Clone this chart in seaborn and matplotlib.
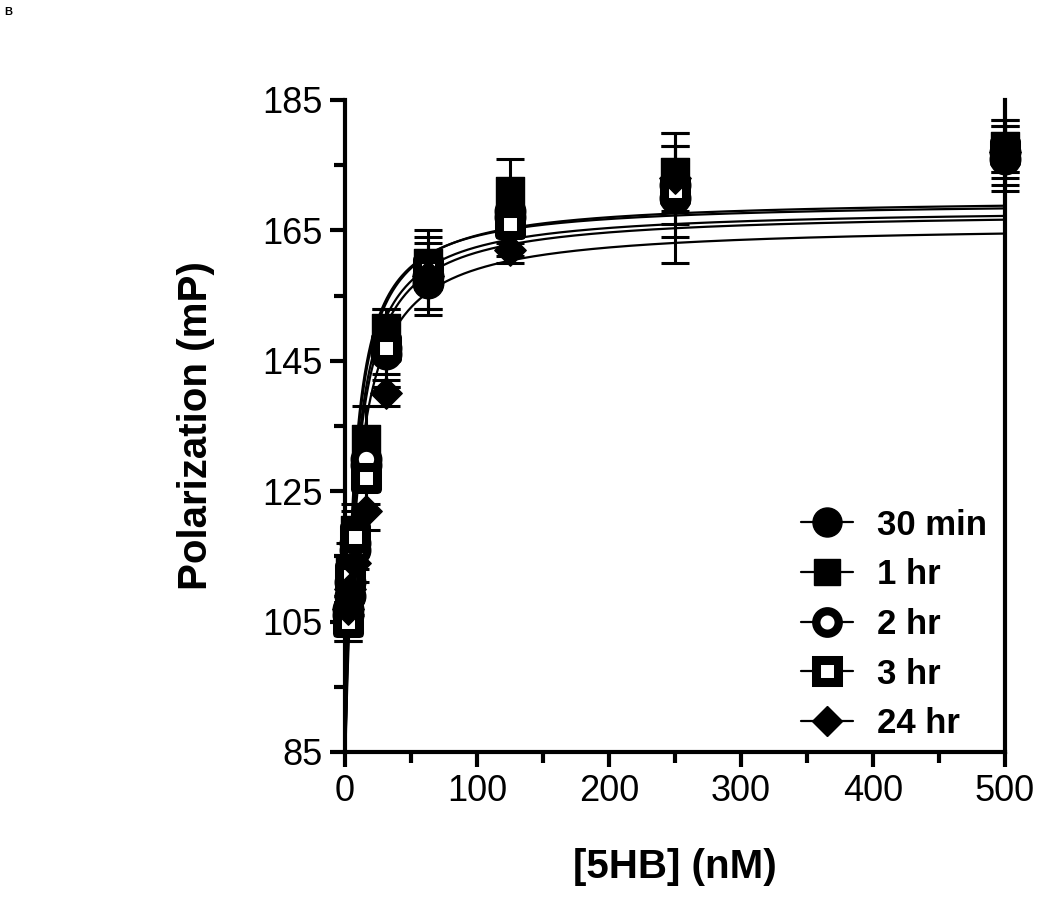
import numpy as np
import pandas as pd
import matplotlib
matplotlib.use("Agg")
import matplotlib.pyplot as plt
from matplotlib.lines import Line2D
import seaborn as sns

# concentrations of 5HB (nM)
conc = [1.95, 3.9, 7.8, 15.6, 31.25, 62.5, 125, 250, 500]

# mean polarization (mP) per time point
pol_30min = [106, 109, 117, 129, 147, 157, 168, 172, 177]
pol_1hr = [105, 113, 119, 133, 150, 160, 171, 174, 178]
pol_2hr = [107, 111, 116, 130, 146, 158, 167, 170, 176]
pol_3hr = [105, 112, 118, 127, 147, 159, 166, 171, 177]
pol_24hr = [107, 110, 114, 122, 140, 158, 162, 173, 177]

# error bars (SEM)
err_30min = [2, 3, 3, 4, 4, 5, 4, 6, 4]
err_1hr = [3, 4, 4, 5, 3, 4, 5, 6, 4]
err_2hr = [2, 3, 3, 4, 5, 5, 4, 10, 5]
err_3hr = [3, 3, 4, 4, 6, 6, 5, 7, 5]
err_24hr = [2, 2, 3, 3, 2, 2, 2, 3, 3]

labels = ["30 min", "1 hr", "2 hr", "3 hr", "24 hr"]

# one-site binding fit parameters: bottom, top, Kd
fit_bottom = [82, 82, 82, 82, 82]
fit_top = [170, 169.5, 168.5, 168, 166]
fit_kd = [7.0, 6.5, 7.5, 8.0, 9.0]

values = [pol_30min, pol_1hr, pol_2hr, pol_3hr, pol_24hr]
errors = [err_30min, err_1hr, err_2hr, err_3hr, err_24hr]

# marker styles: (marker, size, facecolor, edgewidth)
styles = [
    ("o", 22, "black", 1),
    ("s", 20, "black", 1),
    ("o", 17, "white", 6),
    ("s", 16, "white", 6.5),
    ("D", 16, "black", 1),
]

sns.set_style("ticks")
plt.rcParams["font.family"] = ["Liberation Sans", "DejaVu Sans"]
plt.rcParams["text.color"] = "black"
plt.rcParams["axes.labelcolor"] = "black"
plt.rcParams["xtick.color"] = "black"
plt.rcParams["ytick.color"] = "black"

fig = plt.figure(figsize=(10.5, 9.06), dpi=100)
ax = fig.add_axes([345 / 1050, 1 - 752 / 906, 660 / 1050, 652 / 906])

# fitted curves
x_fit = np.concatenate([np.linspace(0, 20, 400), np.linspace(20, 500, 500)])
for b, t, kd in zip(fit_bottom, fit_top, fit_kd):
    y_fit = b + (t - b) * x_fit / (kd + x_fit)
    sns.lineplot(x=x_fit, y=y_fit, ax=ax, color="black", lw=1.6,
                 sort=False, zorder=4)

# data with error bars
for lab, y, e, (m, ms, fc, mew) in zip(labels, values, errors, styles):
    ax.errorbar(conc, y, yerr=e, fmt="none", ecolor="black",
                elinewidth=2.2, capsize=10, capthick=2.2, zorder=3,
                clip_on=False)
    df = pd.DataFrame({"conc": conc, "pol": y})
    sns.scatterplot(data=df, x="conc", y="pol", ax=ax, marker=m,
                    s=ms ** 2, color=fc, edgecolor="black",
                    linewidth=mew, zorder=5, clip_on=False, legend=False)

ax.set_xlim(0, 500)
ax.set_ylim(85, 185)
ax.set_xticks([0, 100, 200, 300, 400, 500])
ax.set_xticks([50, 150, 250, 350, 450], minor=True)
ax.set_yticks([85, 105, 125, 145, 165, 185])
ax.set_yticks([95, 115, 135, 155, 175], minor=True)

ax.tick_params(which="major", length=11, width=3, labelsize=26, pad=5,
               direction="out", color="black", labelcolor="black")
ax.tick_params(which="minor", length=8, width=3, direction="out",
               color="black")

ax.spines["top"].set_visible(False)
for side in ["left", "bottom", "right"]:
    ax.spines[side].set_linewidth(3)
    ax.spines[side].set_color("black")

ax.set_xlabel("[5HB] (nM)", fontsize=29, fontweight="bold", labelpad=28)
ax.set_ylabel("Polarization (mP)", fontsize=29, fontweight="bold",
              labelpad=34)

handles = []
for m, ms, fc, mew in styles:
    handles.append(Line2D([], [], color="black", lw=1.6, marker=m,
                          markersize=ms * 0.95, markerfacecolor=fc,
                          markeredgecolor="black", markeredgewidth=mew))
leg = ax.legend(handles, labels, loc="lower right", frameon=False,
                prop={"size": 25, "weight": "bold"}, handlelength=1.5,
                handletextpad=0.7, labelspacing=0.48,
                bbox_to_anchor=(1.02, -0.03))

fig.text(0.004, 0.992, "B", fontsize=8, fontweight="bold", va="top")

fig.savefig("out.png", dpi=100, facecolor="white")
